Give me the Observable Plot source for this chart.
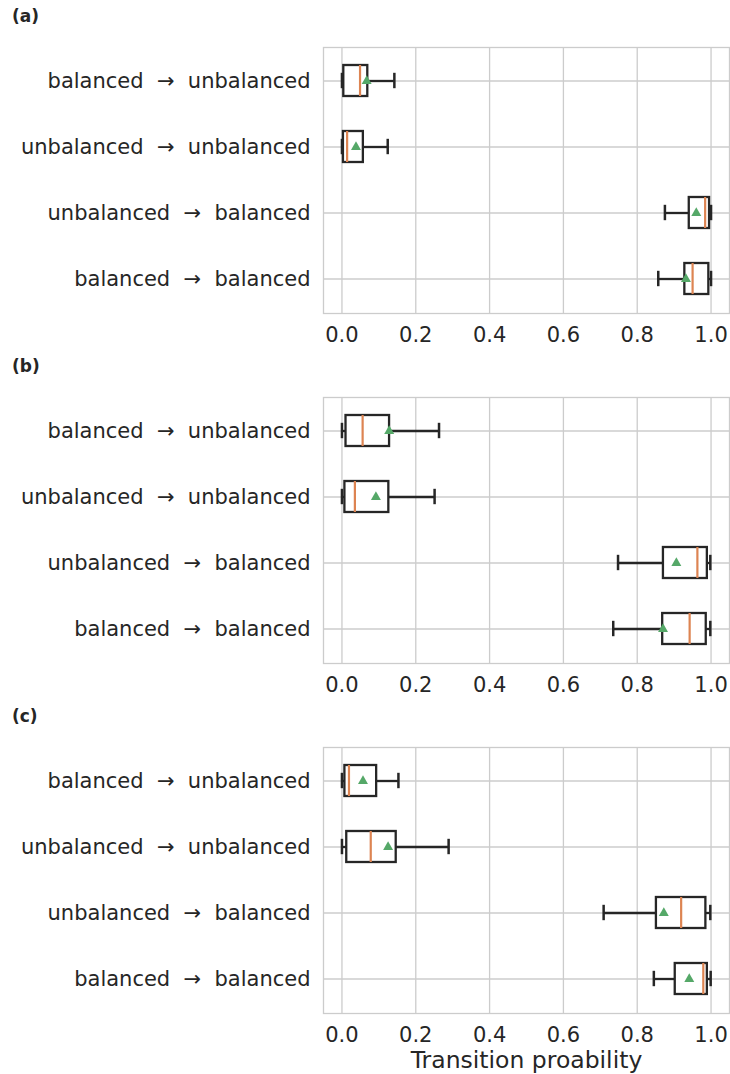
<!DOCTYPE html>
<html><head><meta charset="utf-8">
<script src="https://cdn.jsdelivr.net/npm/d3@7"></script>
<script src="https://cdn.jsdelivr.net/npm/@observablehq/plot@0.6"></script>
<style>
body{margin:0;background:#fff;font-family:"DejaVu Sans",sans-serif;}
#root{position:relative;width:730px;}
.panel{position:relative;}
.tag{position:absolute;left:12px;top:6px;font-weight:bold;font-size:17px;color:#262626;font-family:"DejaVu Sans",sans-serif;}
</style></head><body><div id="root"></div>
<script>
// Categories (top to bottom)
const categories = ["balanced → unbalanced", "unbalanced → unbalanced", "unbalanced → balanced", "balanced → balanced"];
const panelTags = ["(a)", "(b)", "(c)"];
const xTicks = [0, 0.2, 0.4, 0.6, 0.8, 1.0];
const xLabel = "Transition proability";

// Panel (a)
const lowA    = [0.000, 0.000, 0.875, 0.857];
const q1A     = [0.005, 0.004, 0.941, 0.929];
const medianA = [0.049, 0.014, 0.984, 0.950];
const q3A     = [0.070, 0.058, 0.996, 0.994];
const highA   = [0.142, 0.124, 1.000, 1.000];
const meanA   = [0.067, 0.038, 0.960, 0.932];

// Panel (b)
const lowB    = [0.000, 0.000, 0.748, 0.735];
const q1B     = [0.011, 0.008, 0.871, 0.869];
const medianB = [0.056, 0.035, 0.963, 0.942];
const q3B     = [0.129, 0.127, 0.990, 0.987];
const highB   = [0.263, 0.251, 0.998, 0.998];
const meanB   = [0.128, 0.092, 0.906, 0.870];

// Panel (c)
const lowC    = [0.000, 0.000, 0.709, 0.845];
const q1C     = [0.008, 0.013, 0.852, 0.903];
const medianC = [0.019, 0.078, 0.919, 0.979];
const q3C     = [0.094, 0.147, 0.986, 0.990];
const highC   = [0.153, 0.289, 0.998, 0.999];
const meanC   = [0.057, 0.125, 0.872, 0.941];

const panels = [
  [lowA, q1A, medianA, q3A, highA, meanA],
  [lowB, q1B, medianB, q3B, highB, meanB],
  [lowC, q1C, medianC, q3C, highC, meanC]
];

const INK = "#262626", GRID = "#cccccc", ORANGE = "#dd8452", GREEN = "#55a868";
const LW = 2.3;
const root = document.getElementById("root");

panels.forEach((p, k) => {
  const [low, q1, med, q3, high, mean] = p;
  const rows = categories.map((c, i) => ({cat: c, low: low[i], q1: q1[i], med: med[i], q3: q3[i], high: high[i], mean: mean[i]}));
  const last = k === panels.length - 1;
  const H = last ? 374 : 350;
  const chart = Plot.plot({
    width: 730, height: H,
    marginTop: 47, marginBottom: last ? 61 : 37, marginLeft: 323, marginRight: 1,
    style: {fontFamily: "DejaVu Sans", color: INK, background: "white", overflow: "visible"},
    x: {domain: [-0.05, 1.05]},
    y: {type: "band", domain: categories, paddingInner: 0.53, paddingOuter: 0.265},
    marks: [
      Plot.gridX({ticks: xTicks, stroke: GRID, strokeOpacity: 1, strokeWidth: 1.3}),
      Plot.gridY({stroke: GRID, strokeOpacity: 1, strokeWidth: 1.3}),
      Plot.frame({stroke: GRID, strokeWidth: 1.3}),
      Plot.axisX({ticks: xTicks, tickFormat: d3.format(".1f"), tickSize: 0, tickPadding: 14, fontSize: 21, label: null}),
      Plot.axisY({tickSize: 0, tickPadding: 13, fontSize: 21, label: null,
        tickFormat: d => d.replace(" → ", "\u00a0\u00a0→\u00a0\u00a0")}),
      Plot.ruleY(rows, {y: "cat", x1: "low", x2: "q1", stroke: INK, strokeWidth: LW}),
      Plot.ruleY(rows, {y: "cat", x1: "q3", x2: "high", stroke: INK, strokeWidth: LW}),
      Plot.barX(rows, {y: "cat", x1: "q1", x2: "q3", fill: "white", stroke: INK, strokeWidth: LW}),
      Plot.tickX(rows, {y: "cat", x: "low", stroke: INK, strokeWidth: LW + 0.2, insetTop: 7.8, insetBottom: 7.8}),
      Plot.tickX(rows, {y: "cat", x: "high", stroke: INK, strokeWidth: LW + 0.2, insetTop: 7.8, insetBottom: 7.8}),
      Plot.tickX(rows, {y: "cat", x: "med", stroke: ORANGE, strokeWidth: 2.2}),
      Plot.dot(rows, {y: "cat", x: "mean", symbol: "triangle", r: 3.7, fill: GREEN, stroke: "none"}),
      ...(last ? [Plot.text([xLabel], {text: d => d, frameAnchor: "bottom", dy: 46.5, fontSize: 23.5, fill: INK, lineAnchor: "middle"})] : [])
    ]
  });
  const div = document.createElement("div");
  div.className = "panel";
  div.style.height = H + "px";
  const tag = document.createElement("div");
  tag.className = "tag";
  tag.textContent = panelTags[k];
  div.appendChild(chart);
  div.appendChild(tag);
  root.appendChild(div);
});
</script></body></html>
